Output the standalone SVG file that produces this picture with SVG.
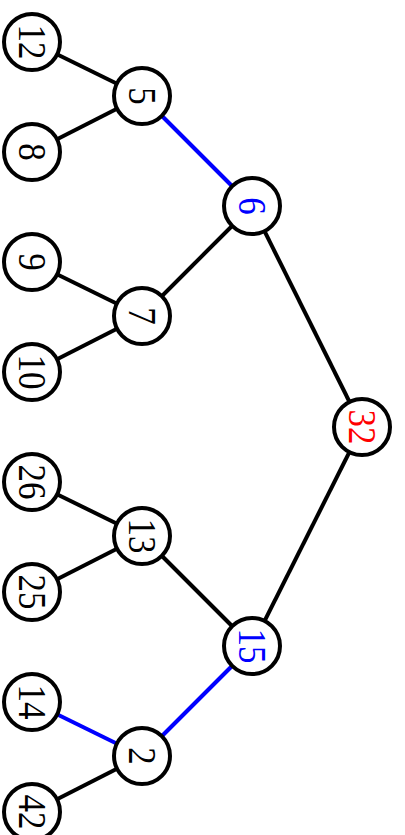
<svg xmlns="http://www.w3.org/2000/svg" width="405" height="835" viewBox="0 0 405 835">
  <style>
    .edge { stroke: #000; stroke-width: 4; fill: none; }
    .edge.hl { stroke: #0000ff; }
    .node circle { fill: #fff; stroke: #000; stroke-width: 4; }
    .node text { font-family: "Liberation Serif", "Times New Roman", serif; font-size: 35px; text-anchor: middle; fill: #000; }
    .node text.blue { fill: #0000ff; }
    .node text.red { fill: #ff0000; }
  </style>
  <rect width="405" height="835" fill="#fff"/>
  <g id="edges">
    <line class="edge" x1="32" y1="42" x2="142" y2="96"/>
    <line class="edge" x1="32" y1="152" x2="142" y2="96"/>
    <line class="edge hl" x1="142" y1="96" x2="252" y2="206"/>
    <line class="edge" x1="32" y1="262" x2="142" y2="316"/>
    <line class="edge" x1="32" y1="372" x2="142" y2="316"/>
    <line class="edge" x1="142" y1="316" x2="252" y2="206"/>
    <line class="edge" x1="252" y1="206" x2="362" y2="427"/>
    <line class="edge" x1="362" y1="427" x2="252" y2="646"/>
    <line class="edge" x1="32" y1="482" x2="142" y2="536"/>
    <line class="edge" x1="32" y1="592" x2="142" y2="536"/>
    <line class="edge" x1="142" y1="536" x2="252" y2="646"/>
    <line class="edge hl" x1="252" y1="646" x2="142" y2="756"/>
    <line class="edge hl" x1="32" y1="702" x2="142" y2="756"/>
    <line class="edge" x1="32" y1="812" x2="142" y2="756"/>
  </g>
  <g id="n12" class="node" transform="translate(32,42)"><circle r="28"/><text transform="rotate(90) scale(1,1.15)" y="11.5">12</text></g>
  <g id="n8" class="node" transform="translate(32,152)"><circle r="28"/><text transform="rotate(90) scale(1,1.15)" y="11.5">8</text></g>
  <g id="n5" class="node" transform="translate(142,96)"><circle r="28"/><text transform="rotate(90) scale(1,1.15)" y="11.5">5</text></g>
  <g id="n6" class="node" transform="translate(252,206)"><circle r="28"/><text class="blue" transform="rotate(90) scale(1,1.15)" y="11.5">6</text></g>
  <g id="n9" class="node" transform="translate(32,262)"><circle r="28"/><text transform="rotate(90) scale(1,1.15)" y="11.5">9</text></g>
  <g id="n10" class="node" transform="translate(32,372)"><circle r="28"/><text transform="rotate(90) scale(1,1.15)" y="11.5">10</text></g>
  <g id="n7" class="node" transform="translate(142,316)"><circle r="28"/><text transform="rotate(90) scale(1,1.15)" y="11.5">7</text></g>
  <g id="n32" class="node" transform="translate(362,427)"><circle r="28"/><text class="red" transform="rotate(90) scale(1,1.15)" y="11.5">32</text></g>
  <g id="n26" class="node" transform="translate(32,482)"><circle r="28"/><text transform="rotate(90) scale(1,1.15)" y="11.5">26</text></g>
  <g id="n25" class="node" transform="translate(32,592)"><circle r="28"/><text transform="rotate(90) scale(1,1.15)" y="11.5">25</text></g>
  <g id="n13" class="node" transform="translate(142,536)"><circle r="28"/><text transform="rotate(90) scale(1,1.15)" y="11.5">13</text></g>
  <g id="n15" class="node" transform="translate(252,646)"><circle r="28"/><text class="blue" transform="rotate(90) scale(1,1.15)" y="11.5">15</text></g>
  <g id="n14" class="node" transform="translate(32,702)"><circle r="28"/><text transform="rotate(90) scale(1,1.15)" y="11.5">14</text></g>
  <g id="n42" class="node" transform="translate(32,812)"><circle r="28"/><text transform="rotate(90) scale(1,1.15)" y="11.5">42</text></g>
  <g id="n2" class="node" transform="translate(142,756)"><circle r="28"/><text transform="rotate(90) scale(1,1.15)" y="11.5">2</text></g>
</svg>
